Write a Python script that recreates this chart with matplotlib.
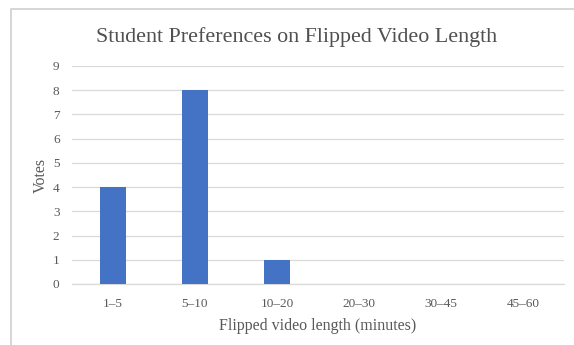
import matplotlib
matplotlib.use("Agg")
import matplotlib.pyplot as plt
from matplotlib.patches import Rectangle

categories = ["1–5", "5–10", "10–20", "20–30", "30–45", "45–60"]
votes = [4, 8, 1, 0, 0, 0]
yticks = list(range(0, 10))

W, H = 574, 345
fig = plt.figure(figsize=(W / 100, H / 100), dpi=100)
fig.patch.set_facecolor("white")
plt.rcParams["font.family"] = ["Liberation Serif", "DejaVu Serif"]

# outer frame
fig.patches.append(Rectangle((11 / W, -0.01), 1.0, 1 - 9 / H + 0.01,
                             transform=fig.transFigure, fill=False,
                             edgecolor="#d0d0d0", linewidth=1.2))

ax = fig.add_axes([72 / W, 1 - 284 / H, 492 / W, (284 - 66) / H])
x = list(range(len(categories)))
ax.bar(x, votes, width=0.31, color="#4472C4", zorder=3)
ax.set_xlim(-0.5, len(categories) - 0.5)
ax.set_ylim(0, 9)
ax.set_yticks(yticks)
ax.set_xticks(x)
ax.set_xticklabels(categories)
ax.grid(axis="y", color="#d9d9d9", linewidth=0.9, zorder=0)
for s in ["top", "right", "left"]:
    ax.spines[s].set_visible(False)
ax.spines["bottom"].set_color("#d9d9d9")
ax.spines["bottom"].set_linewidth(0.9)
ax.tick_params(axis="both", length=0, colors="#595959", labelsize=9.5)
ax.tick_params(axis="y", pad=9)
ax.tick_params(axis="x", pad=10)
ax.set_xlabel("Flipped video length (minutes)", fontsize=11.5, color="#595959", labelpad=6)
ax.set_ylabel("Votes", fontsize=11.5, color="#595959", labelpad=3)
fig.text(0.517, 1 - 37 / H, "Student Preferences on Flipped Video Length",
         ha="center", va="center", fontsize=15.8, color="#505050")

fig.savefig("out.png", dpi=100, facecolor="white")
